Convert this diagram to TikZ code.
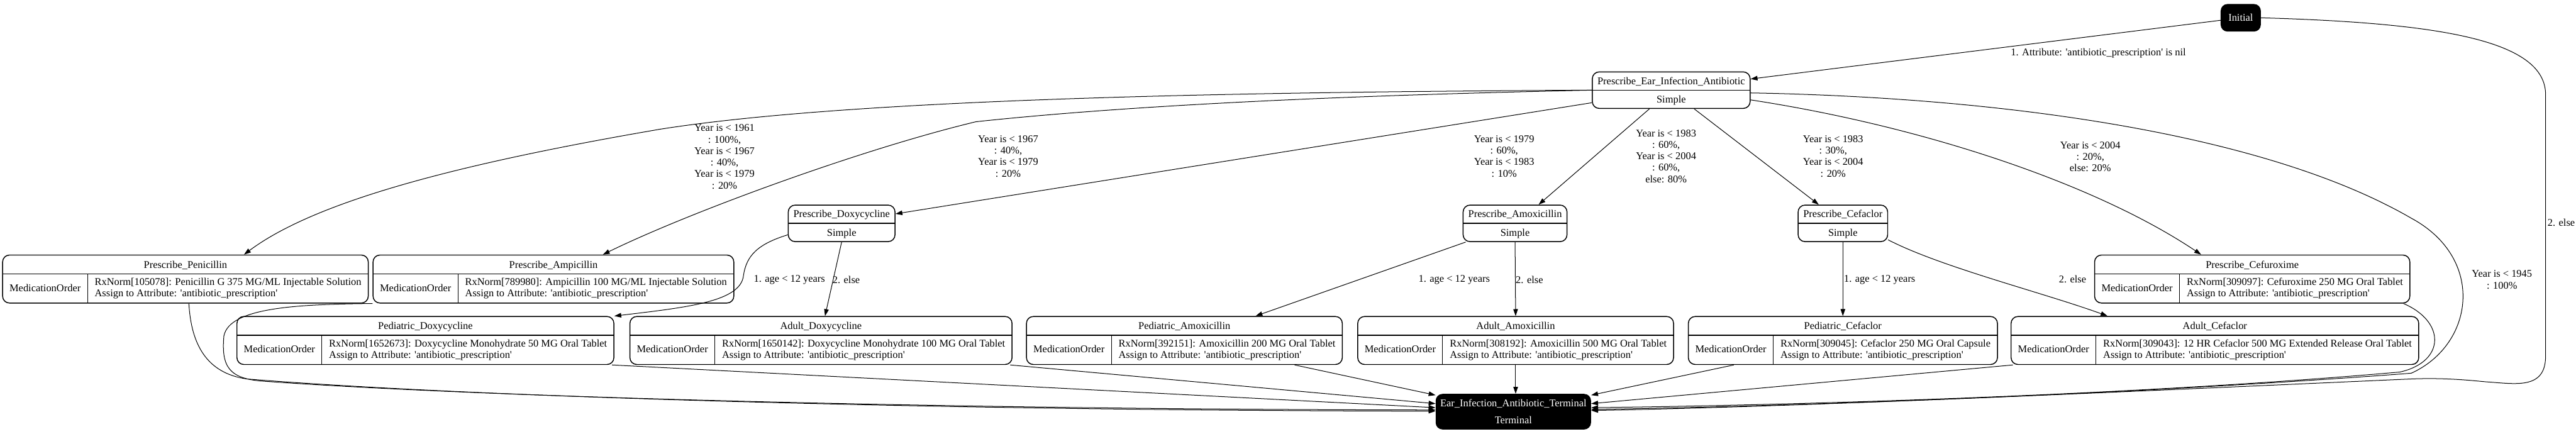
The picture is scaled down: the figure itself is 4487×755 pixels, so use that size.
\documentclass[tikz,border=0pt]{standalone}
\usepackage{fontspec}
\setmainfont{Liberation Serif}
\usetikzlibrary{arrows.meta}
\setlength{\arrayrulewidth}{1pt}

\newcommand{\simplebox}[1]{%
  \begin{tabular}{@{\hspace{9pt}}c@{\hspace{9pt}}}#1\\\noalign{\hrule height 1.6pt}Simple\end{tabular}}
\newcommand{\attrline}{Assign to Attribute: \textquotesingle antibiotic\_prescription\textquotesingle}
\newcommand{\actbox}[2]{%
  \begin{tabular}{@{\hspace{12pt}}c@{\hspace{12pt}}|@{\hspace{12pt}}l@{\hspace{12pt}}}%
  \multicolumn{2}{@{}c@{}}{\rule[-9.5pt]{0pt}{32pt}#1}\\\noalign{\hrule height 1.6pt}%
  \rule[-20.5pt]{0pt}{50pt}MedicationOrder&%
  {\fontsize{18}{20}\selectfont\begin{tabular}[c]{@{}l@{}}#2\\\attrline\end{tabular}}%
  \end{tabular}}

\begin{document}
\begin{tikzpicture}[x=1pt, y=-1pt,
  rec/.style={draw, line width=1.6pt, rounded corners=12pt, inner sep=0pt, font=\fontsize{18}{31}\selectfont},
  blackstate/.style={fill=black, text=white, rounded corners=12pt, inner xsep=8pt, font=\fontsize{18}{30}\selectfont},
  trans/.style={-{Triangle[length=12pt,width=8pt]}, line width=1.1pt},
  lbl/.style={font=\fontsize{18}{20}\selectfont, align=center, inner sep=0pt}]
    \useasboundingbox (0,0) rectangle (4487,755);
    \fill[white] (0,0) rectangle (4487,755);

    \node[blackstate, minimum width=70pt, minimum height=48pt] (init) at (3903,31) {Initial};
    \node[rec] (prescribe) at (2911,157) {\simplebox{Prescribe\_Ear\_Infection\_Antibiotic}};

    \node[rec] (pdoxy) at (1466,389) {\simplebox{Prescribe\_Doxycycline}};
    \node[rec] (pamox) at (2639,389) {\simplebox{Prescribe\_Amoxicillin}};
    \node[rec] (pcef) at (3210,389) {\simplebox{Prescribe\_Cefaclor}};

    \node[rec] (ppen) at (323,486) {\actbox{Prescribe\_Penicillin}{RxNorm[105078]: Penicillin G 375 MG/ML Injectable Solution}};
    \node[rec] (pamp) at (964,486) {\actbox{Prescribe\_Ampicillin}{RxNorm[789980]: Ampicillin 100 MG/ML Injectable Solution}};
    \node[rec] (pcefu) at (3923,486) {\actbox{Prescribe\_Cefuroxime}{RxNorm[309097]: Cefuroxime 250 MG Oral Tablet}};

    \node[rec] (peddoxy) at (741,593) {\actbox{Pediatric\_Doxycycline}{RxNorm[1652673]: Doxycycline Monohydrate 50 MG Oral Tablet}};
    \node[rec] (adudoxy) at (1430,593) {\actbox{Adult\_Doxycycline}{RxNorm[1650142]: Doxycycline Monohydrate 100 MG Oral Tablet}};
    \node[rec] (pedamox) at (2063,593) {\actbox{Pediatric\_Amoxicillin}{RxNorm[392151]: Amoxicillin 200 MG Oral Tablet}};
    \node[rec] (aduamox) at (2640,593) {\actbox{Adult\_Amoxicillin}{RxNorm[308192]: Amoxicillin 500 MG Oral Tablet}};
    \node[rec] (pedcef) at (3210,593) {\actbox{Pediatric\_Cefaclor}{RxNorm[309045]: Cefaclor 250 MG Oral Capsule}};
    \node[rec] (aducef) at (3858,593) {\actbox{Adult\_Cefaclor}{RxNorm[309043]: 12 HR Cefaclor 500 MG Extended Release Oral Tablet}};

    \node[blackstate, align=center, minimum height=62pt] (term) at (2636,717) {Ear\_Infection\_Antibiotic\_Terminal\\Terminal};

    \draw[trans] (init) -- (prescribe.8) node[lbl] at (3655,93) {1. Attribute: \textquotesingle antibiotic\_prescription\textquotesingle\ is nil};
    \draw[trans] (init.east) .. controls (4250,40) and (4434,70) .. (4434,165) -- (4434,620) .. controls (4434,680) and (4380,668) .. (4330,665) .. controls (4290,661) and (4250,658) .. (4200,660) .. controls (3750,680) and (3150,708) .. ([yshift=2pt]term.east) node[lbl, anchor=west] at (4437,388) {2. else};

    \draw[trans] (prescribe.west) .. controls (2200,160) and (1500,170) .. (1150,225) .. controls (800,285) and (550,350) .. ([xshift=102pt]ppen.north) node[lbl] at (1262,273) {Year is < 1961\\: 100\%,\\Year is < 1967\\: 40\%,\\Year is < 1979\\: 20\%};
    \draw[trans] (prescribe.west) .. controls (2400,165) and (2000,180) .. (1700,212) .. controls (1500,260) and (1200,370) .. ([xshift=86pt]pamp.north) node[lbl] at (1756,272) {Year is < 1967\\: 40\%,\\Year is < 1979\\: 20\%};
    \draw[trans] (prescribe.189) -- (pdoxy.10) node[lbl] at (2620,272) {Year is < 1979\\: 60\%,\\Year is < 1983\\: 10\%};
    \draw[trans] ([xshift=-38pt]prescribe.south) -- ([xshift=41pt]pamox.north) node[lbl] at (2902,272) {Year is < 1983\\: 60\%,\\Year is < 2004\\: 60\%,\\else: 80\%};
    \draw[trans] ([xshift=40pt]prescribe.south) -- ([xshift=-42pt]pcef.north) node[lbl] at (3193,272) {Year is < 1983\\: 30\%,\\Year is < 2004\\: 20\%};
    \draw[trans] (prescribe.-7) .. controls (3350,220) and (3650,320) .. ([xshift=-89pt]pcefu.north) node[lbl] at (3641,273) {Year is < 2004\\: 20\%,\\else: 20\%};
    \draw[trans] (prescribe.-2) .. controls (3500,170) and (3950,235) .. (4200,380) .. controls (4330,450) and (4310,600) .. (4200,650) .. controls (3700,688) and (3100,708) .. ([yshift=4pt]term.east) node[lbl] at (4358,487) {Year is < 1945\\: 100\%};

    \draw[trans] (pdoxy.192) .. controls (1320,425) and (1300,445) .. (1295,480) .. controls (1290,525) and (1200,535) .. (peddoxy.north east) node[lbl] at (1375,487) {1. age < 12 years};
    \draw[trans] (pdoxy.south) -- ([xshift=7pt]adudoxy.north) node[lbl] at (1474,487) {2. else};
    \draw[trans] ([xshift=-86pt]pamox.south) -- ([xshift=124pt]pedamox.north) node[lbl] at (2533,487) {1. age < 12 years};
    \draw[trans] (pamox.south) -- (aduamox.north) node[lbl] at (2664,487) {2. else};
    \draw[trans] (pcef.south) -- (pedcef.north) node[lbl] at (3274,487) {1. age < 12 years};
    \draw[trans] (pcef.-20) .. controls (3380,465) and (3560,510) .. ([xshift=-187pt]aducef.north) node[lbl] at (3610,486) {2. else};

    \draw[trans] ([xshift=6pt]ppen.south) .. controls (333,600) and (360,650) .. (430,660) .. controls (800,690) and (1600,715) .. ([yshift=1pt]term.west);
    \draw[trans] (pamp.south west) .. controls (520,530) and (400,535) .. (390,585) .. controls (385,640) and (400,660) .. (460,664) .. controls (850,692) and (1650,713) .. ([yshift=3pt]term.west);
    \draw[trans] ([xshift=-4pt]peddoxy.south east) -- ([yshift=7pt]term.west);
    \draw[trans] ([xshift=-4pt]adudoxy.south east) -- ([yshift=14pt]term.west);
    \draw[trans] ([xshift=192pt]pedamox.south) -- (term.168);
    \draw[trans] (aduamox.south) -- (aduamox.south |- term.north);
    \draw[trans] ([xshift=-190pt]pedcef.south) -- (term.12);
    \draw[trans] ([xshift=4pt]aducef.south west) -- ([yshift=14pt]term.east);
    \draw[trans] ([xshift=-12pt]pcefu.south east) .. controls (4260,560) and (4260,630) .. (4180,648) .. controls (3700,690) and (3100,706) .. ([yshift=7pt]term.east);
\end{tikzpicture}
\end{document}
